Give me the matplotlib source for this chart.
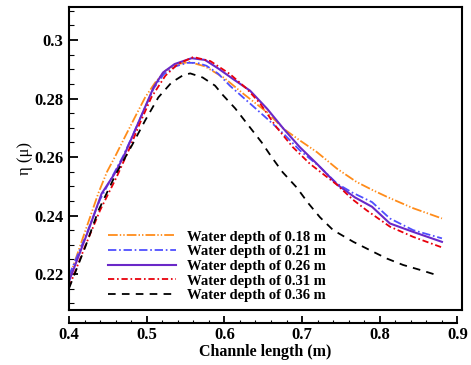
import matplotlib
matplotlib.use("Agg")
import matplotlib.pyplot as plt
from matplotlib.ticker import MultipleLocator, FormatStrFormatter
from matplotlib.lines import Line2D

plt.rcParams['font.family'] = ['Liberation Serif', 'DejaVu Serif']
plt.rcParams['lines.scale_dashes'] = False

labels = ["Water depth of 0.18 m", "Water depth of 0.21 m", "Water depth of 0.26 m",
          "Water depth of 0.31 m", "Water depth of 0.36 m"]

x018 = [0.400, 0.420, 0.438, 0.449, 0.459, 0.472, 0.485, 0.498, 0.511, 0.524, 0.540, 0.555,
        0.575, 0.600, 0.625, 0.655, 0.676, 0.697, 0.719, 0.745, 0.770, 0.790, 0.810, 0.843, 0.880]
y018 = [0.2185, 0.2340, 0.2478, 0.2550, 0.2600, 0.2669, 0.2737, 0.2804, 0.2855, 0.2895, 0.2918, 0.2925,
        0.2910, 0.2870, 0.2815, 0.2753, 0.2697, 0.2657, 0.2617, 0.2560, 0.2515, 0.2488, 0.2463, 0.2425, 0.2390]

x021 = [0.400, 0.420, 0.440, 0.455, 0.470, 0.483, 0.496, 0.509, 0.522, 0.537, 0.552, 0.565, 0.577,
        0.592, 0.607, 0.633, 0.655, 0.676, 0.697, 0.723, 0.745, 0.765, 0.790, 0.813, 0.843, 0.880]
y021 = [0.2195, 0.2320, 0.2455, 0.2530, 0.2605, 0.2680, 0.2758, 0.2835, 0.2883, 0.2910, 0.2922, 0.2922, 0.2912,
        0.2885, 0.2844, 0.2783, 0.2731, 0.2680, 0.2623, 0.2566, 0.2509, 0.2478, 0.2446, 0.2390, 0.2350, 0.2322]

x026 = [0.400, 0.425, 0.442, 0.458, 0.470, 0.483, 0.496, 0.509, 0.521, 0.536, 0.558, 0.575, 0.592,
        0.611, 0.633, 0.655, 0.676, 0.697, 0.719, 0.745, 0.768, 0.790, 0.813, 0.843, 0.880]
y026 = [0.2175, 0.2350, 0.2475, 0.2540, 0.2600, 0.2679, 0.2759, 0.2839, 0.2889, 0.2918, 0.2938, 0.2932, 0.2903,
        0.2867, 0.2827, 0.2765, 0.2697, 0.2634, 0.2577, 0.2506, 0.2462, 0.2430, 0.2373, 0.2344, 0.2310]

x031 = [0.400, 0.420, 0.440, 0.461, 0.478, 0.491, 0.506, 0.524, 0.540, 0.560, 0.582, 0.607, 0.629,
        0.646, 0.667, 0.688, 0.710, 0.745, 0.765, 0.783, 0.813, 0.843, 0.880]
y031 = [0.2155, 0.2290, 0.2418, 0.2530, 0.2630, 0.2714, 0.2804, 0.2878, 0.2918, 0.2942, 0.2928, 0.2884, 0.2833,
        0.2783, 0.2702, 0.2634, 0.2577, 0.2505, 0.2455, 0.2418, 0.2362, 0.2327, 0.2291]

x036 = [0.400, 0.421, 0.438, 0.460, 0.481, 0.498, 0.515, 0.532, 0.547, 0.556, 0.572, 0.588, 0.598, 0.614,
        0.633, 0.648, 0.661, 0.675, 0.693, 0.708, 0.723, 0.740, 0.766, 0.787, 0.809, 0.830, 0.852, 0.875]
y036 = [0.2151, 0.2293, 0.2418, 0.2540, 0.2640, 0.2725, 0.2804, 0.2855, 0.2880, 0.2886, 0.2872, 0.2844, 0.2812, 0.2766,
        0.2701, 0.2650, 0.2599, 0.2548, 0.2496, 0.2442, 0.2394, 0.2350, 0.2310, 0.2282, 0.2253, 0.2231, 0.2214, 0.2195]

xticks = [0.4, 0.5, 0.6, 0.7, 0.8, 0.9]
yticks = [0.22, 0.24, 0.26, 0.28, 0.30]

fig = plt.figure(figsize=(4.71, 3.65), dpi=100)
ax = fig.add_axes([69/471, 1 - 310/365, 393/471, 303/365])

lw = 1.3
ax.plot(x018, y018, color='#FF8C1A', lw=lw, dashes=(7, 1.5, 1, 1.5, 1, 1.5), label=labels[0])
ax.plot(x021, y021, color='#4F4FFF', lw=lw, dashes=(6, 2, 1.2, 2), label=labels[1])
ax.plot(x026, y026, color='#6A28C8', lw=1.5, ls='-', label=labels[2])
ax.plot(x031, y031, color='#E8000B', lw=lw, dashes=(4.5, 2, 1.2, 2), label=labels[3])
ax.plot(x036, y036, color='black', lw=lw, dashes=(5.5, 4.5), label=labels[4])

ax.set_xlim(0.4, 0.9058)
ax.set_ylim(0.2077, 0.3113)

for s in ['top', 'right', 'left']:
    ax.spines[s].set_linewidth(1.5)
ax.spines['bottom'].set_linewidth(1.5)
ax.spines['bottom'].set_position(('outward', 9))
ax.spines['bottom'].set_bounds(0.4, 0.9)
ax.add_line(Line2D([0, 1], [0, 0], transform=ax.transAxes, color='black', lw=1.5, clip_on=False))

ax.set_xticks(xticks)
ax.set_yticks(yticks)
ax.xaxis.set_minor_locator(MultipleLocator(0.02))
ax.yaxis.set_minor_locator(MultipleLocator(0.005))
ax.xaxis.set_major_formatter(FormatStrFormatter('%g'))
ax.yaxis.set_major_formatter(FormatStrFormatter('%g'))
ax.tick_params(axis='x', which='major', direction='in', length=5, width=1.3, pad=3)
ax.tick_params(axis='x', which='minor', direction='in', length=2.5, width=0.8)
ax.tick_params(axis='y', which='major', direction='in', length=6.5, width=1.3, pad=4)
ax.tick_params(axis='y', which='minor', direction='in', length=3.5, width=0.8)
for t in ax.get_xticklabels() + ax.get_yticklabels():
    t.set_fontsize(12)
    t.set_fontweight('bold')

ax.set_xlabel('Channle length (m)', fontsize=11.5, fontweight='bold', labelpad=1)
ax.set_ylabel('η (μ)', fontsize=12, labelpad=1)

leg = ax.legend(loc='lower left', bbox_to_anchor=(0.072, -0.008), frameon=False,
                prop={'family': 'Liberation Serif', 'weight': 'bold', 'size': 10.5},
                handlelength=4.7, handletextpad=0.75, labelspacing=0.1, borderpad=0.2)

fig.savefig('out.png', dpi=100)
